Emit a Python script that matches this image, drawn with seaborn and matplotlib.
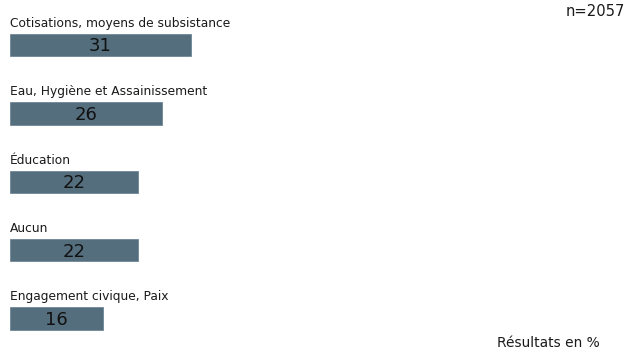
import matplotlib
matplotlib.use("Agg")
import matplotlib.pyplot as plt
import seaborn as sns
import pandas as pd

categories = [
    "Cotisations, moyens de subsistance",
    "Eau, Hygiène et Assainissement",
    "Éducation",
    "Aucun",
    "Engagement civique, Paix",
]
values = [31, 26, 22, 22, 16]
sample_note = "n=2057"
unit_note = "Résultats en %"

sns.set_theme(style="white")
plt.rcParams["font.family"] = ["DejaVu Sans"]

df = pd.DataFrame({"categorie": categories, "valeur": values})

W, H = 629, 354
fig = plt.figure(figsize=(W / 100, H / 100), dpi=100)
ax = fig.add_axes([10 / W, 0, 1 - 10 / W, 1])

bar_color = "#546e7e"
sns.barplot(data=df, x="valeur", y="categorie", orient="h", color=bar_color,
            width=0.33, saturation=1, ax=ax, edgecolor="#6f8796", linewidth=0.6)

px_per_unit = 5.84
ax.set_xlim(0, (W - 10) / px_per_unit)
spacing = 68.4
ax.set_ylim((H - 45) / spacing, -45 / spacing)

for i, (cat, val) in enumerate(zip(categories, values)):
    ax.text(0, i - 0.165 - 7 / spacing, cat, ha="left", va="baseline",
            fontsize=8.8, color="#1a1a1a")
    ax.text(val / 2, i + 0.02, f"{val}", ha="center", va="center",
            fontsize=13, color="#111111")

ax.set_axis_off()

fig.text(625 / W, 1 - 11 / H, sample_note, ha="right", va="center",
         fontsize=10.6, color="#1a1a1a")
fig.text(600 / W, 1 - 343 / H, unit_note, ha="right", va="center",
         fontsize=9.9, color="#1a1a1a")

fig.savefig("out.png", dpi=100, facecolor="white")
